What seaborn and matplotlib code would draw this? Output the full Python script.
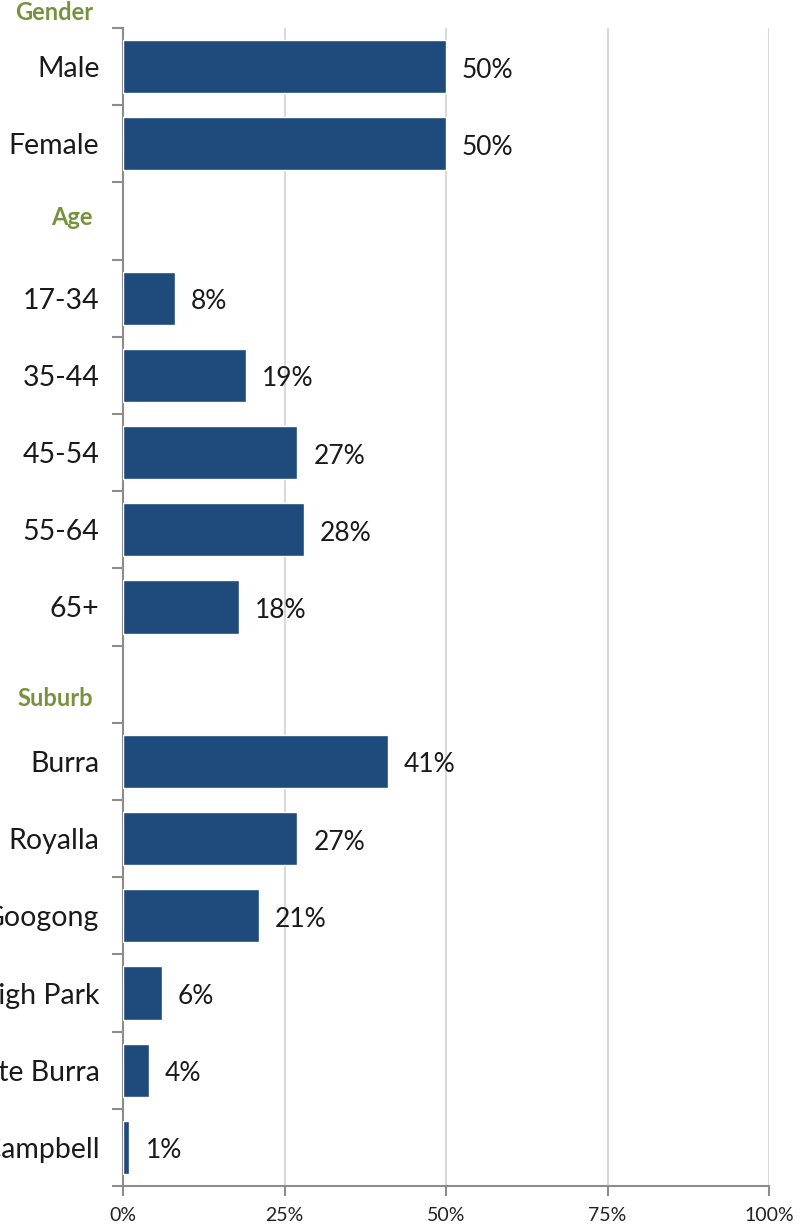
import matplotlib
matplotlib.use("Agg")
import matplotlib.pyplot as plt
import matplotlib.transforms as mtransforms
from matplotlib.ticker import FixedLocator
import numpy as np
import pandas as pd
import seaborn as sns

# Survey respondent profile
gender_labels = ["Male", "Female"]
gender_values = [50, 50]

age_labels = ["17-34", "35-44", "45-54", "55-64", "65+"]
age_values = [8, 19, 27, 28, 18]

suburb_labels = ["Burra", "Royalla", "Googong", "Fernleigh Park", "Estate Burra", "Mount Campbell"]
suburb_values = [41, 27, 21, 6, 4, 1]

section_titles = ["Gender", "Age", "Suburb"]
x_ticks = [0, 25, 50, 75, 100]

# One row per slot; section headers (Age, Suburb) take an empty slot
rows = []
for lab, val in zip(gender_labels, gender_values):
    rows.append((lab, val))
rows.append(("__Age", np.nan))
for lab, val in zip(age_labels, age_values):
    rows.append((lab, val))
rows.append(("__Suburb", np.nan))
for lab, val in zip(suburb_labels, suburb_values):
    rows.append((lab, val))
df = pd.DataFrame(rows, columns=["category", "pct"])
order = list(df["category"])

sns.set_theme(style="white")
plt.rcParams["font.family"] = ["Lato", "DejaVu Sans"]

fig = plt.figure(figsize=(8, 12.25), dpi=100)
ax = fig.add_axes([0.15375, 0.0318, 0.8075, 0.9454])

bar_color = "#1F4A7C"
sns.barplot(data=df, x="pct", y="category", order=order, color=bar_color,
            width=0.69, saturation=1, ax=ax, errorbar=None, zorder=3)

n = len(order)
ax.set_xlim(0, 100)
ax.set_ylim(n - 0.5, -0.5)

# grid and axes styling
axis_gray = "#8C8C8C"
ax.set_xticks(x_ticks)
ax.set_xticklabels([f"{t}%" for t in x_ticks], fontsize=14, color="#222222")
ax.xaxis.grid(True, color="#D9D9D9", linewidth=1.5, zorder=0)
ax.yaxis.grid(False)
for side in ["top", "right"]:
    ax.spines[side].set_visible(False)
for side in ["left", "bottom"]:
    ax.spines[side].set_visible(True)
    ax.spines[side].set_color(axis_gray)
    ax.spines[side].set_linewidth(1.5)
ax.tick_params(axis="x", direction="out", length=7, width=1.5, color=axis_gray, pad=8, bottom=True)

# category labels at slot centres, tick marks at slot boundaries
labels = ["" if c.startswith("__") else c for c in order]
ax.set_yticks(range(n))
ax.set_yticklabels(labels, fontsize=20.5, color="#1A1A1A")
ax.tick_params(axis="y", which="major", length=0, pad=17)
ax.yaxis.set_minor_locator(FixedLocator(np.arange(-0.5, n, 1.0)))
ax.tick_params(axis="y", which="minor", direction="out", length=8, width=1.5,
               color=axis_gray, left=True)
ax.set_xlabel("")
ax.set_ylabel("")

# section headers
header_color = "#76923C"
trans = mtransforms.blended_transform_factory(fig.transFigure, ax.transData)
header_pos = {"Gender": -0.695, "Age": 1.96, "Suburb": 8.18}
for title in section_titles:
    ax.text(93 / 800, header_pos[title], title, transform=trans, ha="right", va="center",
            fontsize=17, fontweight="bold", color=header_color, clip_on=False)

# value labels
for i, (cat, val) in enumerate(zip(df["category"], df["pct"])):
    if np.isnan(val):
        continue
    ax.annotate(f"{int(val)}%", xy=(val, i), xytext=(11.5, -2.5), textcoords="offset points",
                ha="left", va="center", fontsize=19, color="#1A1A1A")

fig.savefig("out.png", dpi=100)
